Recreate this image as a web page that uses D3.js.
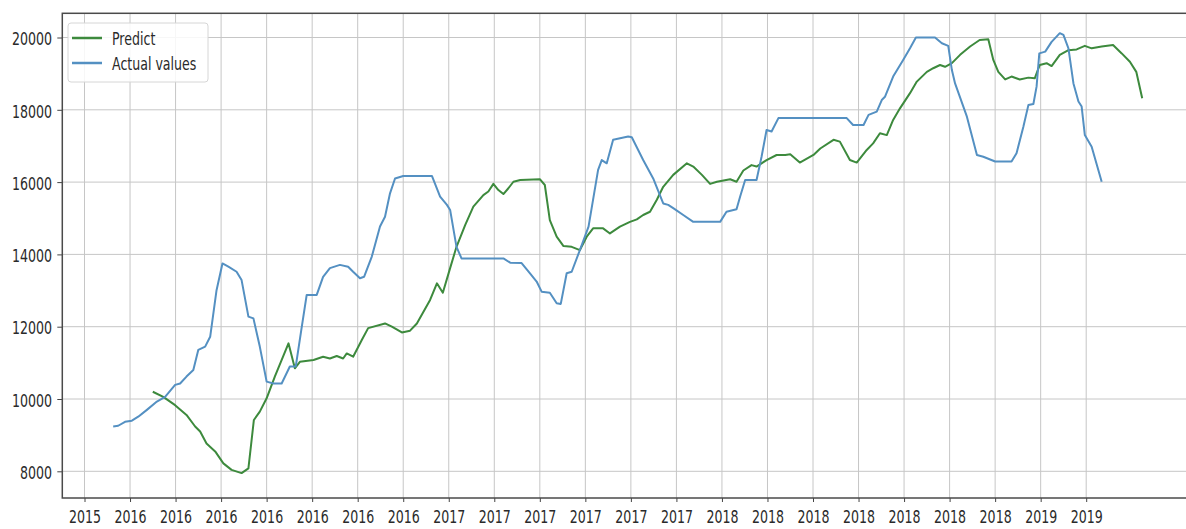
<!DOCTYPE html>
<html>
<head>
<meta charset="utf-8">
<script src="https://cdn.jsdelivr.net/npm/d3@7"></script>
<style>
  html, body { margin: 0; padding: 0; background: #fff; }
  svg { display: block; font-family: "DejaVu Sans", sans-serif; }
</style>
</head>
<body>
<svg id="chart" width="1186" height="529"></svg>
<script>
// x tick labels (one per tick position 0..22)
const tickLabels = ["2015",
  "2016", "2016", "2016", "2016", "2016", "2016", "2016",
  "2017", "2017", "2017", "2017", "2017", "2017",
  "2018", "2018", "2018", "2018", "2018", "2018", "2018",
  "2019", "2019"];
const yTicks = [8000, 10000, 12000, 14000, 16000, 18000, 20000];

// Actual values: position along the x axis (tick units) and value
const actualPos = [0.63,0.74,0.89,1.04,1.18,1.37,1.59,1.77,1.99,2.10,
  2.24,2.39,2.50,2.65,2.76,2.90,3.03,3.16,3.34,3.45,
  3.60,3.71,3.85,4.00,4.15,4.33,4.51,4.64,4.76,4.88,
  5.10,5.24,5.39,5.61,5.79,5.90,6.05,6.14,6.31,6.49,
  6.60,6.71,6.82,7.00,7.63,7.81,7.96,8.03,8.17,8.28,
  9.20,9.35,9.60,9.78,9.93,10.04,10.22,10.37,10.46,10.59,
  10.70,10.88,11.07,11.28,11.36,11.47,11.61,11.94,12.02,12.27,
  12.49,12.71,12.82,12.93,13.15,13.37,13.96,14.10,14.32,14.40,
  14.51,14.76,14.87,14.98,15.09,15.24,16.74,16.88,17.11,17.22,
  17.40,17.51,17.58,17.76,17.98,18.13,18.26,18.68,18.83,18.97,
  19.05,19.12,19.38,19.60,19.74,20.00,20.36,20.47,20.62,20.73,
  20.84,20.91,20.97,21.10,21.24,21.42,21.50,21.61,21.72,21.83,
  21.90,21.97,22.12,22.34];
const actualVal = [9240,9260,9370,9400,9510,9700,9930,10060,10390,10430,
  10620,10800,11360,11450,11720,13010,13750,13660,13520,13290,
  12280,12230,11450,10480,10430,10430,10900,10900,11900,12880,
  12880,13380,13620,13710,13660,13520,13340,13380,13940,14770,
  15040,15690,16100,16170,16170,15600,15370,15230,14210,13890,
  13890,13770,13760,13480,13250,12970,12940,12650,12630,13480,
  13520,14120,14770,16340,16610,16520,17170,17260,17240,16610,
  16100,15410,15370,15280,15090,14900,14900,15180,15250,15600,
  16060,16060,16700,17440,17400,17770,17770,17580,17580,17860,
  17950,18270,18360,18920,19380,19700,20000,20000,19840,19770,
  19100,18730,17810,16750,16700,16570,16570,16800,17530,18130,
  18160,18640,19560,19610,19880,20120,20070,19700,18730,18230,
  18090,17300,16980,16010];

// Predict: position along the x axis (tick units) and value
const predictPos = [1.50,1.73,1.99,2.24,2.43,2.54,2.68,2.87,3.05,3.23,
  3.45,3.60,3.72,3.85,4.00,4.18,4.48,4.62,4.73,5.03,
  5.24,5.39,5.54,5.68,5.76,5.90,6.09,6.23,6.60,6.75,
  6.97,7.15,7.30,7.59,7.74,7.87,8.03,8.17,8.36,8.54,
  8.76,8.87,8.98,9.09,9.20,9.31,9.42,9.57,10.00,10.11,
  10.22,10.37,10.52,10.70,10.88,11.03,11.17,11.39,11.54,11.76,
  11.98,12.13,12.27,12.42,12.57,12.71,12.93,13.23,13.37,13.56,
  13.74,13.89,14.18,14.32,14.47,14.65,14.76,14.98,15.20,15.39,
  15.50,15.71,16.01,16.16,16.45,16.59,16.81,16.96,17.18,17.32,
  17.47,17.62,17.76,17.91,18.13,18.28,18.50,18.64,18.79,18.90,
  19.05,19.23,19.45,19.66,19.85,19.96,20.07,20.22,20.36,20.54,
  20.73,20.87,20.98,21.13,21.24,21.42,21.61,21.79,21.97,22.12,
  22.34,22.59,22.78,22.96,23.10,23.23];
const predictVal = [10200,10060,9830,9560,9240,9100,8770,8550,8220,8040,
  7950,8080,9420,9650,10020,10620,11540,10850,11030,11080,
  11170,11120,11190,11120,11260,11170,11630,11960,12090,12000,
  11840,11890,12090,12740,13200,12940,13620,14210,14810,15320,
  15640,15740,15950,15780,15670,15830,16010,16060,16080,15920,
  14950,14490,14230,14210,14120,14490,14720,14720,14580,14770,
  14900,14970,15090,15180,15510,15870,16200,16520,16430,16200,
  15950,16010,16080,16010,16320,16470,16430,16610,16750,16750,
  16770,16540,16750,16930,17170,17120,16610,16540,16890,17070,
  17350,17300,17720,18040,18460,18780,19050,19150,19240,19190,
  19290,19520,19750,19930,19950,19380,19050,18840,18920,18840,
  18890,18870,19240,19290,19210,19520,19650,19670,19770,19700,
  19750,19790,19560,19330,19050,18320];

const seriesNames = ["Predict", "Actual values"];
const seriesColors = ["#3d8a3d", "#5490c2"];

// ---- layout ----
const frame = { left: 62.3, top: 13.3, right: 1194, bottom: 498 };
const textScale = 0.7;   // narrow lettering
const fontSize = 18;

const x = d3.scaleLinear().domain([0, tickLabels.length - 1]).range([84.5, 1086.2]);
const y = d3.scaleLinear().domain([8000, 20000]).range([471.3, 37.5]);

const svg = d3.select("#chart");

svg.append("defs").append("clipPath").attr("id", "plot-area")
  .append("rect")
  .attr("x", frame.left).attr("y", frame.top)
  .attr("width", frame.right - frame.left).attr("height", frame.bottom - frame.top);

// grid
const grid = svg.append("g").attr("stroke", "#c6c6c6").attr("stroke-width", 1);
grid.selectAll("line.vx").data(d3.range(tickLabels.length)).join("line")
  .attr("class", "vx")
  .attr("x1", d => x(d)).attr("x2", d => x(d))
  .attr("y1", frame.top).attr("y2", frame.bottom);
grid.selectAll("line.hy").data(yTicks).join("line")
  .attr("class", "hy")
  .attr("x1", frame.left).attr("x2", frame.right)
  .attr("y1", d => y(d)).attr("y2", d => y(d));

// series
const line = d3.line().x(d => x(d[0])).y(d => y(d[1]));
const lines = svg.append("g").attr("clip-path", "url(#plot-area)")
  .attr("fill", "none").attr("stroke-width", 2).attr("stroke-linejoin", "round");
lines.append("path").datum(d3.zip(predictPos, predictVal))
  .attr("stroke", seriesColors[0]).attr("d", line);
lines.append("path").datum(d3.zip(actualPos, actualVal))
  .attr("stroke", seriesColors[1]).attr("d", line);

// axes
const xAxis = d3.axisBottom(x)
  .tickValues(d3.range(tickLabels.length))
  .tickFormat(i => tickLabels[i])
  .tickSize(4).tickPadding(8);
const gx = svg.append("g").attr("transform", `translate(0,${frame.bottom})`).call(xAxis);
gx.select(".domain").remove();
gx.selectAll(".tick line").attr("stroke", "#444");
gx.selectAll(".tick text")
  .attr("font-size", fontSize).attr("fill", "#2a2a2a")
  .attr("transform", `scale(${textScale},1)`);

const yAxis = d3.axisLeft(y).tickValues(yTicks).tickFormat(d3.format("d")).tickSize(5);
const gy = svg.append("g").attr("transform", `translate(${frame.left},0)`).call(yAxis);
gy.select(".domain").remove();
gy.selectAll(".tick line").attr("stroke", "#444");
gy.selectAll(".tick text")
  .attr("font-size", fontSize).attr("fill", "#2a2a2a")
  .attr("x", -10.3 / textScale).attr("dy", "0.4em")
  .attr("transform", `scale(${textScale},1)`);
svg.selectAll(".tick text").attr("font-family", "DejaVu Sans, sans-serif");

// frame
svg.append("rect")
  .attr("x", frame.left).attr("y", frame.top)
  .attr("width", frame.right - frame.left).attr("height", frame.bottom - frame.top)
  .attr("fill", "none").attr("stroke", "#4a4a4a").attr("stroke-width", 1.5);

// legend
const legend = svg.append("g");
legend.append("rect")
  .attr("x", 68).attr("y", 23).attr("width", 140).attr("height", 59).attr("rx", 3)
  .attr("fill", "#fff").attr("fill-opacity", 0.85)
  .attr("stroke", "#d6d6d6").attr("stroke-width", 1);
const items = legend.selectAll("g.item").data(seriesNames).join("g")
  .attr("class", "item")
  .attr("transform", (d, i) => `translate(0,${38 + i * 25})`);
items.append("line")
  .attr("x1", 72).attr("x2", 102).attr("y1", 0).attr("y2", 0)
  .attr("stroke", (d, i) => seriesColors[i]).attr("stroke-width", 2.5);
items.append("text")
  .attr("transform", `translate(112,7) scale(${textScale},1)`)
  .attr("font-size", fontSize).attr("fill", "#2a2a2a")
  .text(d => d);
</script>
</body>
</html>
